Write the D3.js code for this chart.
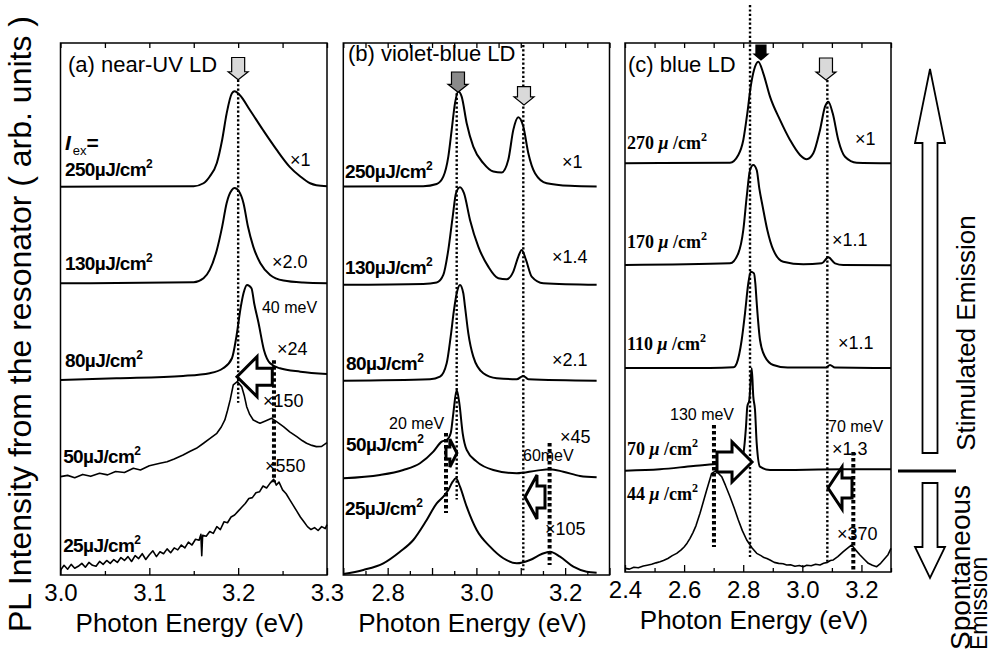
<!DOCTYPE html>
<html>
<head>
<meta charset="utf-8">
<script src="https://cdn.jsdelivr.net/npm/d3@7"></script>
<style>
  body { margin: 0; background: #fff; }
  text { font-family: "Liberation Sans", Arial, sans-serif; fill: #000; }
</style>
</head>
<body>
<div id="chart"></div>
<script>
// ---------- data: (a) near-UV LD ----------
var nuvDensity = ["250µJ/cm", "130µJ/cm", "80µJ/cm", "50µJ/cm", "25µJ/cm"];
var nuvFactor = ["×1", "×2.0", "×24", "×150", "×550"];
var nuvOffset = [4, 3, 2, 1, 0];
var nuvTickLabels = [3.0, 3.1, 3.2, 3.3];
var nuv250 = [[3.0,0.015],[3.15,0.02],[3.161,0.05],[3.168,0.12],[3.176,0.26],[3.182,0.50],[3.187,0.77],[3.193,0.98],[3.196,1.0],[3.202,0.96],[3.213,0.81],[3.228,0.60],[3.243,0.40],[3.258,0.22],[3.270,0.12],[3.281,0.05],[3.288,0.03],[3.3,0.02]];
var nuv130 = [[3.0,0.016],[3.15,0.027],[3.161,0.068],[3.168,0.154],[3.176,0.361],[3.182,0.602],[3.187,0.844],[3.193,0.981],[3.196,1.0],[3.201,0.964],[3.206,0.844],[3.211,0.602],[3.217,0.395],[3.225,0.223],[3.236,0.102],[3.251,0.044],[3.273,0.023],[3.3,0.016]];
var nuv80 = [[3.0,0.017],[3.063,0.034],[3.138,0.058],[3.168,0.086],[3.183,0.137],[3.193,0.241],[3.198,0.464],[3.203,0.775],[3.206,0.913],[3.210,0.999],[3.215,0.965],[3.218,0.81],[3.223,0.603],[3.229,0.327],[3.236,0.189],[3.247,0.137],[3.270,0.102],[3.3,0.079]];
var nuv50 = [[3.0,0.017],[3.008,0.03],[3.016,0.005],[3.025,0.04],[3.034,0.02],[3.044,0.052],[3.053,0.035],[3.062,0.07],[3.072,0.06],[3.082,0.103],[3.09,0.085],[3.1,0.13],[3.112,0.155],[3.12,0.17],[3.128,0.2],[3.138,0.241],[3.146,0.28],[3.153,0.31],[3.161,0.362],[3.168,0.41],[3.176,0.465],[3.181,0.53],[3.185,0.603],[3.188,0.7],[3.191,0.81],[3.1945,0.965],[3.199,0.999],[3.204,0.947],[3.207,0.85],[3.2096,0.74],[3.213,0.66],[3.217,0.603],[3.222,0.58],[3.2246,0.569],[3.23,0.59],[3.2377,0.62],[3.244,0.58],[3.251,0.534],[3.258,0.48],[3.266,0.43],[3.272,0.39],[3.277,0.362],[3.283,0.34],[3.288,0.327],[3.294,0.33],[3.3,0.368]];
var nuv25 = [[3.000,0.05],[3.004,0.10],[3.008,0.06],[3.012,0.11],[3.016,0.07],[3.020,0.09],[3.024,0.12],[3.028,0.08],[3.032,0.13],[3.036,0.10],[3.040,0.09],[3.044,0.14],[3.048,0.11],[3.052,0.15],[3.056,0.12],[3.060,0.16],[3.064,0.13],[3.068,0.18],[3.072,0.15],[3.076,0.19],[3.080,0.14],[3.084,0.20],[3.088,0.17],[3.092,0.22],[3.096,0.16],[3.100,0.21],[3.104,0.25],[3.108,0.19],[3.112,0.24],[3.116,0.22],[3.120,0.27],[3.124,0.23],[3.128,0.28],[3.132,0.26],[3.136,0.31],[3.140,0.28],[3.144,0.34],[3.148,0.31],[3.152,0.37],[3.156,0.36],[3.158,0.42],[3.159,0.20],[3.160,0.41],[3.164,0.40],[3.168,0.45],[3.172,0.43],[3.176,0.50],[3.180,0.47],[3.184,0.55],[3.188,0.54],[3.192,0.60],[3.196,0.62],[3.200,0.66],[3.204,0.70],[3.208,0.74],[3.212,0.79],[3.216,0.80],[3.220,0.85],[3.224,0.86],[3.228,0.92],[3.232,0.90],[3.236,0.95],[3.240,0.99],[3.243,0.93],[3.246,0.96],[3.250,0.88],[3.254,0.84],[3.258,0.78],[3.262,0.72],[3.266,0.66],[3.270,0.60],[3.274,0.55],[3.278,0.50],[3.282,0.47],[3.286,0.49],[3.290,0.46],[3.294,0.50],[3.298,0.48],[3.300,0.52]];

// ---------- data: (b) violet-blue LD ----------
var vbDensity = ["250µJ/cm", "130µJ/cm", "80µJ/cm", "50µJ/cm", "25µJ/cm"];
var vbFactor = ["×1", "×1.4", "×2.1", "×45", "×105"];
var vbOffset = [4, 3, 2, 1, 0];
var vbTickLabels = [2.8, 3.0, 3.2];
var vb250 = [[2.7,0.016],[2.88,0.02],[2.9105,0.043],[2.9254,0.119],[2.9367,0.326],[2.9443,0.602],[2.9518,0.878],[2.9592,0.998],[2.9668,0.946],[2.9781,0.671],[2.993,0.429],[3.0156,0.257],[3.0381,0.171],[3.057,0.161],[3.0719,0.292],[3.0832,0.602],[3.0945,0.733],[3.1057,0.636],[3.117,0.361],[3.1321,0.154],[3.1585,0.05],[3.211,0.023],[3.271,0.016]];
var vb130 = [[2.7,0.0],[2.88,0.008],[2.9105,0.023],[2.9254,0.102],[2.9367,0.361],[2.9466,0.705],[2.954,0.947],[2.963,1.009],[2.972,0.947],[2.9856,0.671],[3.0043,0.395],[3.0268,0.188],[3.0494,0.068],[3.0683,0.058],[3.0832,0.137],[3.0945,0.292],[3.1021,0.361],[3.1118,0.257],[3.1246,0.085],[3.1508,0.016],[3.271,0.0]];
var vb80 = [[2.7,0.009],[2.8954,0.024],[2.918,0.051],[2.933,0.189],[2.942,0.464],[2.9495,0.74],[2.9556,0.913],[2.963,0.999],[2.9705,0.913],[2.9743,0.775],[2.9818,0.499],[2.993,0.258],[3.0156,0.086],[3.0458,0.034],[3.0908,0.024],[3.1057,0.058],[3.117,0.024],[3.271,0.009]];
var vb50 = [[2.7,0.0],[2.7827,0.034],[2.8352,0.086],[2.8729,0.155],[2.9029,0.275],[2.9218,0.379],[2.9331,0.396],[2.9421,0.465],[2.948,0.672],[2.9556,0.913],[2.9615,0.776],[2.9691,0.465],[2.9781,0.293],[3.0007,0.172],[3.0381,0.086],[3.0908,0.052],[3.1359,0.079],[3.1659,0.093],[3.1959,0.068],[3.2335,0.024],[3.271,0.01]];
var vb25 = [[2.7,0.01],[2.7451,0.052],[2.7902,0.121],[2.8278,0.241],[2.8578,0.362],[2.888,0.569],[2.9105,0.741],[2.9254,0.81],[2.9367,0.879],[2.9466,0.965],[2.954,1.0],[2.963,0.913],[2.9781,0.706],[3.0007,0.465],[3.0307,0.293],[3.0607,0.173],[3.0908,0.121],[3.1208,0.155],[3.1472,0.217],[3.1659,0.241],[3.1885,0.189],[3.2185,0.086],[3.2486,0.034],[3.271,0.024]];

// ---------- data: (c) blue LD ----------
var blDensity = ["270", "170", "110", "70", "44"];
var blFactor = ["×1", "×1.1", "×1.1", "×1.3", "×370"];
var blOffset = [4.25, 3.19, 2.12, 1.06, 0];
var blTickLabels = [2.4, 2.6, 2.8, 3.0, 3.2];
var bl270 = [[2.4,0.0],[2.7553,0.006],[2.7834,0.086],[2.8003,0.242],[2.8138,0.519],[2.8253,0.796],[2.8365,0.969],[2.8511,1.056],[2.8679,0.935],[2.8906,0.692],[2.9244,0.45],[2.9583,0.242],[2.9921,0.086],[3.0147,0.041],[3.0371,0.103],[3.0598,0.346],[3.0767,0.588],[3.0879,0.64],[3.1028,0.519],[3.1217,0.242],[3.1444,0.068],[3.184,0.006],[3.3,0.0]];
var bl170 = [[2.4,0.002],[2.7553,0.019],[2.7834,0.124],[2.8003,0.366],[2.8118,0.712],[2.823,0.99],[2.8341,1.042],[2.8456,0.99],[2.8544,0.799],[2.8659,0.608],[2.8815,0.366],[2.9018,0.158],[2.9356,0.036],[3.0033,0.009],[3.0655,0.019],[3.0879,0.082],[3.1105,0.019],[3.1386,0.002],[3.3,0.0]];
var bl110 = [[2.4,0.0],[2.6876,0.0],[2.7665,0.008],[2.778,0.05],[2.7948,0.292],[2.806,0.57],[2.8172,0.882],[2.8253,1.002],[2.8365,0.985],[2.841,0.88],[2.8456,0.68],[2.8568,0.292],[2.8737,0.118],[2.9018,0.032],[2.95,0.005],[3.08,0.005],[3.0936,0.032],[3.11,0.005],[3.3,0.0]];
var bl70 = [[2.4,-0.007],[2.5184,0.008],[2.6312,0.042],[2.7103,0.063],[2.778,0.07],[2.7982,0.139],[2.8094,0.451],[2.8138,0.659],[2.8206,0.728],[2.8287,1.058],[2.8341,0.763],[2.8399,0.624],[2.8456,0.278],[2.8568,0.035],[2.8906,0.0],[3.1386,0.008],[3.3,0.008]];
var bl44 = [[2.4,0.038],[2.415,0.03],[2.43,0.05],[2.445,0.045],[2.4619,0.062],[2.475,0.07],[2.49,0.08],[2.505,0.095],[2.5184,0.107],[2.53,0.12],[2.545,0.14],[2.56,0.17],[2.5749,0.194],[2.59,0.23],[2.60,0.26],[2.61,0.3],[2.62,0.35],[2.63,0.41],[2.64,0.48],[2.6538,0.61],[2.665,0.73],[2.6764,0.853],[2.6933,1.026],[2.7079,1.053],[2.715,1.03],[2.7272,0.991],[2.74,0.9],[2.7553,0.783],[2.77,0.66],[2.7834,0.541],[2.797,0.43],[2.8118,0.333],[2.83,0.25],[2.8456,0.194],[2.86,0.17],[2.87,0.15],[2.88,0.14],[2.8906,0.125],[2.905,0.1],[2.92,0.09],[2.935,0.085],[2.9471,0.073],[2.96,0.075],[2.975,0.06],[2.99,0.068],[3.0033,0.055],[3.015,0.07],[3.03,0.065],[3.045,0.08],[3.0598,0.073],[3.072,0.09],[3.085,0.10],[3.095,0.12],[3.1048,0.125],[3.12,0.16],[3.1386,0.211],[3.15,0.24],[3.167,0.281],[3.18,0.23],[3.1951,0.177],[3.21,0.13],[3.2232,0.09],[3.237,0.07],[3.2516,0.055],[3.265,0.09],[3.2797,0.142],[3.29,0.18],[3.3,0.246]];

// ---------- layout ----------
var svg = d3.select("#chart").append("svg")
    .attr("width", 994)
    .attr("height", 654);

var panels = [
  {
    title: "(a) near-UV LD", titleAt: [3.005, 5.2],
    left: 60.5, right: 327, top: 43, bottom: 575, domain: [3.0, 3.3],
    ticks: d3.range(0, 7).map(i => 3.0 + i * 0.05), majorStep: 0.1,
    topTicks: d3.range(0, 7).map(i => 3.0 + i * 0.05),
    labels: nuvTickLabels,
    spectra: [nuv250, nuv130, nuv80, nuv50, nuv25], noisy: [false, false, false, true, true],
    offset: nuvOffset, density: nuvDensity, factor: nuvFactor, serif: false,
    densityAt: [[3.005, 4.126], [3.005, 3.154], [3.005, 2.151], [3.003, 1.158], [3.003, 0.238]],
    factorAt: [[3.2583, 4.23], [3.238, 3.175], [3.2437, 2.275], [3.228, 1.737], [3.2302, 1.065]],
    notes: [{t: "40 meV", at: [3.2268, 2.71]}],
    dots: [{e: 3.2, u0: 5.12, u1: 1.78, thick: false}, {e: 3.2403, u0: 2.22, u1: 0.96, thick: true}],
    downArrows: [{e: 3.2, u0: 5.35, u1: 5.12, fill: "#d9d9d9", half: 6.5, head: 10, len: 8}],
    sideArrows: [{e0: 3.2384, e1: 3.1987, u: 2.05, head: 20, headHalf: 20, shaftHalf: 8.5}]
  },
  {
    title: "(b) violet-blue LD", titleAt: [2.7037, 5.315],
    left: 343.3, right: 609.5, top: 43, bottom: 575, domain: [2.7, 3.3],
    ticks: d3.range(0, 13).map(i => 2.7 + i * 0.05), majorStep: 0.1,
    topTicks: d3.range(0, 13).map(i => 2.7 + i * 0.05),
    labels: vbTickLabels,
    spectra: [vb250, vb130, vb80, vb50, vb25], noisy: [false, false, false, false, false],
    offset: vbOffset, density: vbDensity, factor: vbFactor, serif: false,
    densityAt: [[2.7037, 4.105], [2.7037, 3.113], [2.706, 2.12], [2.706, 1.282], [2.7037, 0.62]],
    factorAt: [[3.193, 4.209], [3.1704, 3.226], [3.1704, 2.161], [3.1885, 1.365], [3.1546, 0.414]],
    notes: [{t: "20 meV", at: [2.803, 1.51]}, {t: "60meV", at: [3.105, 1.179]}],
    dots: [{e: 2.9556, u0: 4.98, u1: 0.78, thick: false}, {e: 3.1057, u0: 5.48, u1: 0.05, thick: false},
           {e: 2.9315, u0: 1.468, u1: 0.641, thick: true}, {e: 3.165, u0: 1.365, u1: 0.103, thick: true}],
    downArrows: [{e: 2.9585, u0: 5.2, u1: 4.99, fill: "#8a8a8a", half: 6.5, head: 10, len: 8},
                 {e: 3.1073, u0: 5.05, u1: 4.86, fill: "#d9d9d9", half: 6.5, head: 10, len: 8}],
    sideArrows: [{e0: 2.9315, e1: 2.956, u: 1.26, head: 7, headHalf: 14, shaftHalf: 6},
                 {e0: 3.1546, e1: 3.1095, u: 0.807, head: 12, headHalf: 22, shaftHalf: 11}]
  },
  {
    title: "(c) blue LD", titleAt: [2.4, 5.199],
    left: 625, right: 891, top: 43, bottom: 572, domain: [2.4, 3.3],
    ticks: d3.range(0, 10).map(i => 2.4 + i * 0.1), majorStep: 0.2,
    topTicks: d3.range(0, 10).map(i => 2.4 + i * 0.1),
    labels: blTickLabels,
    spectra: [bl270, bl170, bl110, bl70, bl44], noisy: [false, false, false, false, true],
    offset: blOffset, density: blDensity, factor: blFactor, serif: true,
    densityAt: [[2.4068, 4.398], [2.4068, 3.369], [2.4068, 2.308], [2.4068, 1.216], [2.4068, 0.749]],
    factorAt: [[3.178, 4.44], [3.1004, 3.39], [3.1207, 2.319], [3.1004, 1.216], [3.1173, 0.333]],
    notes: [{t: "130 meV", at: [2.5523, 1.58]}, {t: "70 meV", at: [3.0869, 1.456]}],
    dots: [{e: 2.823, u0: 5.895, u1: 0.156, thick: false}, {e: 3.0846, u0: 5.115, u1: 0.094, thick: false},
           {e: 2.701, u0: 1.528, u1: 0.26, thick: true}, {e: 3.1725, u0: 1.248, u1: 0.02, thick: true}],
    downArrows: [{e: 2.86, u0: 5.479, u1: 5.323, fill: "#000", half: 5, head: 7, len: 6},
                 {e: 3.08, u0: 5.344, u1: 5.115, fill: "#d9d9d9", half: 6.5, head: 10, len: 8}],
    sideArrows: [{e0: 2.7113, e1: 2.8298, u: 1.144, head: 20, headHalf: 20, shaftHalf: 10},
                 {e0: 3.1681, e1: 3.0869, u: 0.873, head: 14, headHalf: 21, shaftHalf: 10}]
  }
];

// horizontal block arrow, tip at x1
function hArrow(x0, x1, yc, headLen, headHalf, shaftHalf) {
  var s = x1 > x0 ? 1 : -1, hb = x1 - s * headLen;
  return "M" + x0 + "," + (yc - shaftHalf) + "L" + hb + "," + (yc - shaftHalf) + "L" + hb + "," + (yc - headHalf) +
    "L" + x1 + "," + yc + "L" + hb + "," + (yc + headHalf) + "L" + hb + "," + (yc + shaftHalf) + "L" + x0 + "," + (yc + shaftHalf) + "Z";
}
// vertical block arrow, tip at y1
function vArrow(xc, y0, y1, headLen, headHalf, shaftHalf) {
  var s = y1 > y0 ? 1 : -1, hb = y1 - s * headLen;
  return "M" + (xc - shaftHalf) + "," + y0 + "L" + (xc - shaftHalf) + "," + hb + "L" + (xc - headHalf) + "," + hb +
    "L" + xc + "," + y1 + "L" + (xc + headHalf) + "," + hb + "L" + (xc + shaftHalf) + "," + hb + "L" + (xc + shaftHalf) + "," + y0 + "Z";
}

panels.forEach(function(p) {
  var x = d3.scaleLinear().domain(p.domain).range([p.left, p.right]);
  var y = d3.scaleLinear().domain([0, 5.5]).range([p.bottom, p.top]);
  var g = svg.append("g");

  // spectra
  p.spectra.forEach(function(s, i) {
    var line = d3.line()
      .x(d => x(d[0]))
      .y(d => y(d[1] + p.offset[i]))
      .curve(p.noisy[i] ? d3.curveLinear : d3.curveMonotoneX);
    g.append("path").datum(s)
      .attr("d", line)
      .attr("fill", "none")
      .attr("stroke", "#000")
      .attr("stroke-width", p.noisy[i] ? 1.6 : 2)
      .attr("stroke-linejoin", "round");
  });

  // dotted guide lines
  g.selectAll("line.dot").data(p.dots).enter().append("line")
    .attr("x1", d => x(d.e)).attr("x2", d => x(d.e))
    .attr("y1", d => y(d.u0)).attr("y2", d => y(d.u1))
    .attr("stroke", "#000")
    .attr("stroke-width", d => d.thick ? 4 : 2.4)
    .attr("stroke-dasharray", d => d.thick ? "3.5 2.5" : "2.2 2.2");

  // peak markers
  p.downArrows.forEach(function(a) {
    g.append("path")
      .attr("d", vArrow(x(a.e), y(a.u0), y(a.u1), a.len, a.head, a.half))
      .attr("fill", a.fill).attr("stroke", "#000").attr("stroke-width", 1.2);
  });

  // shift arrows
  p.sideArrows.forEach(function(a) {
    g.append("path")
      .attr("d", hArrow(x(a.e0), x(a.e1), y(a.u), a.head, a.headHalf, a.shaftHalf))
      .attr("fill", "#fff").attr("stroke", "#000").attr("stroke-width", 3)
      .attr("stroke-linejoin", "miter");
  });

  // frame
  g.append("rect")
    .attr("x", p.left).attr("y", p.top)
    .attr("width", p.right - p.left).attr("height", p.bottom - p.top)
    .attr("fill", "none").attr("stroke", "#000").attr("stroke-width", 1.5);

  // bottom axis: inward ticks, labels below
  var isMajor = v => Math.abs(v / p.majorStep - Math.round(v / p.majorStep)) < 1e-6;
  var isLabel = v => p.labels.some(l => Math.abs(l - v) < 1e-6);
  var bottomAxis = d3.axisBottom(x).tickValues(p.ticks)
    .tickSizeInner(0).tickSizeOuter(0).tickPadding(9)
    .tickFormat(v => isLabel(v) ? d3.format(".1f")(v) : "");
  var ax = g.append("g").attr("transform", `translate(0,${p.bottom})`).call(bottomAxis);
  ax.select(".domain").remove();
  ax.selectAll(".tick line").attr("y2", v => isMajor(v) ? -7 : -4).attr("stroke-width", 1.3);
  ax.selectAll(".tick text").attr("font-size", 24).attr("font-family", "Liberation Sans, Arial, sans-serif");

  var topAxis = d3.axisTop(x).tickValues(p.topTicks).tickSizeInner(-5).tickSizeOuter(0).tickFormat("");
  var tx = g.append("g").attr("transform", `translate(0,${p.top})`).call(topAxis);
  tx.select(".domain").remove();
  tx.selectAll(".tick line").attr("stroke-width", 1.3);

  // x axis title
  g.append("text")
    .attr("x", (p.left + p.right) / 2 - 4).attr("y", p.bottom + 57)
    .attr("text-anchor", "middle").attr("font-size", 26)
    .text("Photon Energy (eV)");

  // panel title
  g.append("text")
    .attr("x", x(p.titleAt[0]) + 3).attr("y", y(p.titleAt[1]))
    .attr("font-size", 22).text(p.title);

  // excitation density labels
  p.density.forEach(function(d, i) {
    var t = g.append("text")
      .attr("x", x(p.densityAt[i][0])).attr("y", y(p.densityAt[i][1]))
      .attr("font-weight", "bold");
    if (p.serif) {
      t.style("font-family", "Liberation Serif, serif").attr("font-size", 18);
      t.append("tspan").text(d + " ");
      t.append("tspan").attr("font-style", "italic").text("μ");
      t.append("tspan").text(" /cm");
    } else {
      t.attr("font-size", 19).attr("letter-spacing", -0.6);
      t.append("tspan").text(d);
    }
    t.append("tspan").attr("dy", -8).attr("font-size", 12).text("2");
  });

  // magnification labels
  g.selectAll("text.factor").data(p.factor).enter().append("text")
    .attr("x", (d, i) => x(p.factorAt[i][0]))
    .attr("y", (d, i) => y(p.factorAt[i][1]))
    .attr("font-size", 18)
    .text(d => d);

  // energy shift notes
  p.notes.forEach(function(n) {
    g.append("text").attr("x", x(n.at[0])).attr("y", y(n.at[1]))
      .attr("font-size", 16).text(n.t);
  });

  // I_ex label in panel (a)
  if (p.title.indexOf("(a)") === 0) {
    var ie = g.append("text").attr("x", x(3.005)).attr("y", y(4.395)).attr("font-size", 21).attr("font-weight", "bold");
    ie.append("tspan").attr("font-style", "italic").text("I");
    ie.append("tspan").attr("font-size", 13).attr("font-weight", "normal").attr("dy", 5).attr("dx", 2).text("ex");
    ie.append("tspan").attr("dy", -5).text("=");
  }
});

// y axis title
svg.append("text")
  .attr("transform", "translate(31,324) rotate(-90)")
  .attr("text-anchor", "middle")
  .attr("font-size", 32)
  .text("PL Intensity from the resonator ( arb. units )");

// stimulated / spontaneous side annotation
var side = svg.append("g");
side.append("path").attr("d", vArrow(930, 453, 69, 74, 15, 7.5))
  .attr("fill", "#fff").attr("stroke", "#000").attr("stroke-width", 1.8);
side.append("path").attr("d", vArrow(930, 483, 578, 31, 15, 7.5))
  .attr("fill", "#fff").attr("stroke", "#000").attr("stroke-width", 1.8);
side.append("line").attr("x1", 898).attr("x2", 956).attr("y1", 471).attr("y2", 471)
  .attr("stroke", "#000").attr("stroke-width", 3);
side.append("text").attr("transform", "translate(975,333) rotate(-90)")
  .attr("text-anchor", "middle").attr("font-size", 26).text("Stimulated Emission");
side.append("text").attr("transform", "translate(970,650) rotate(-90)")
  .attr("text-anchor", "start").attr("font-size", 28).text("Spontaneous");
side.append("text").attr("transform", "translate(987,650) rotate(-90)")
  .attr("text-anchor", "start").attr("font-size", 23).text("Emission");
</script>
</body>
</html>
